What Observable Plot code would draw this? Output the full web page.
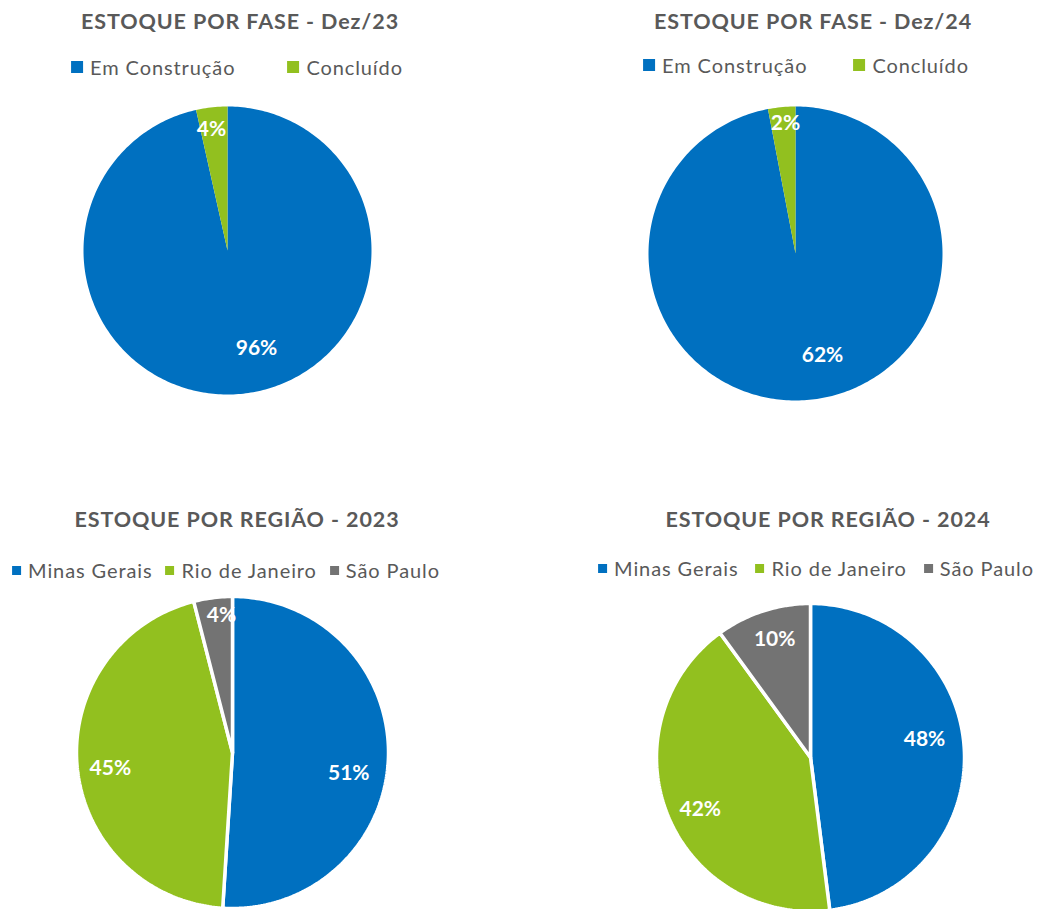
<!DOCTYPE html>
<html><head><meta charset="utf-8">
<script src="https://cdn.jsdelivr.net/npm/d3@7"></script>
<script src="https://cdn.jsdelivr.net/npm/@observablehq/plot@0.6"></script>
<style>
body{margin:0;width:1043px;height:909px;overflow:hidden;background:#fff;font-family:Lato,"Open Sans",sans-serif;position:relative}
.t{position:absolute;transform:translate(-50%,-50%);font-weight:700;color:#595959;font-size:21.5px;letter-spacing:0.9px;white-space:nowrap;line-height:1}
.lg{position:absolute;transform:translate(-50%,-50%);display:flex;align-items:center;color:#595959;font-size:20px;letter-spacing:0.9px;white-space:nowrap;line-height:1}
.item{display:flex;align-items:center}
.sw{display:inline-block;margin-right:7px}
.pie{position:absolute}
</style></head><body>
<script>
// ---- data ----
const phaseCategories = ["Em Construção", "Concluído"];
const phaseColors = ["#0070C0", "#92C01F"];
const phaseDez23 = [96.5, 3.5];
const phaseDez23Labels = ["96%", "4%"];
const phaseDez24 = [97, 3];
const phaseDez24Labels = ["62%", "2%"];

const regionCategories = ["Minas Gerais", "Rio de Janeiro", "São Paulo"];
const regionColors = ["#0070C0", "#92C01F", "#737373"];
const region2023 = [51, 45, 4];
const region2023Labels = ["51%", "45%", "4%"];
const region2024 = [48, 42, 10];
const region2024Labels = ["48%", "42%", "10%"];

const titles = ["ESTOQUE POR FASE - Dez/23", "ESTOQUE POR FASE - Dez/24", "ESTOQUE POR REGIÃO - 2023", "ESTOQUE POR REGIÃO - 2024"];

// ---- layout (positions / styling, not data) ----
const charts = [
  {title: titles[0], cats: phaseCategories, colors: phaseColors, values: phaseDez23, labels: phaseDez23Labels,
   cx: 227, cy: 250, r: 144, border: false, tx: 240, ty: 22, lx: 237, ly: 67, sw: 12, gap: 52,
   nudge: [-10.3, -1.2], rf: [0.706, 0.85]},
  {title: titles[1], cats: phaseCategories, colors: phaseColors, values: phaseDez24, labels: phaseDez24Labels,
   cx: 795, cy: 253, r: 147, border: false, tx: 813, ty: 22, lx: 806, ly: 65, sw: 12, gap: 46,
   nudge: [-9.5, 1], rf: [0.714, 0.89]},
  {title: titles[2], cats: regionCategories, colors: regionColors, values: region2023, labels: region2023Labels,
   cx: 232, cy: 752, r: 156, border: true, tx: 237, ty: 520, lx: 226, ly: 570, sw: 9, gap: 13,
   nudge: [8.3, -2.1, 2.6], rf: [0.757, 0.79, 0.88]},
  {title: titles[3], cats: regionCategories, colors: regionColors, values: region2024, labels: region2024Labels,
   cx: 810, cy: 757, r: 154, border: true, tx: 828, ty: 520, lx: 816, ly: 568, sw: 9, gap: 17,
   nudge: [-5.7, -3.4, 1.1], rf: [0.75, 0.79, 0.80]}
];

function slices(c) {
  const total = d3.sum(c.values);
  const pts = [], labs = [];
  let acc = 0;
  c.values.forEach((v, i) => {
    const a0 = acc / total * 2 * Math.PI;
    acc += v;
    const a1 = acc / total * 2 * Math.PI;
    const cat = c.cats[i];
    pts.push({cat, x: 0, y: 0});
    const n = Math.max(2, Math.ceil((a1 - a0) / (Math.PI / 180)));
    for (let k = 0; k <= n; k++) {
      const a = a0 + (a1 - a0) * k / n;
      pts.push({cat, x: c.r * Math.sin(a), y: c.r * Math.cos(a)});
    }
    pts.push({cat, x: 0, y: 0});
    const am = (a0 + a1) / 2 + c.nudge[i] * Math.PI / 180;
    const f = c.rf[i];
    labs.push({text: c.labels[i], x: f * c.r * Math.sin(am), y: f * c.r * Math.cos(am)});
  });
  return {pts, labs};
}

charts.forEach(c => {
  const t = document.createElement("div");
  t.className = "t"; t.textContent = c.title;
  t.style.left = c.tx + "px"; t.style.top = c.ty + "px";
  document.body.appendChild(t);

  const lg = document.createElement("div");
  lg.className = "lg"; lg.style.left = c.lx + "px"; lg.style.top = c.ly + "px";
  lg.style.gap = c.gap + "px";
  c.cats.forEach((cat, i) => {
    const it = document.createElement("span"); it.className = "item";
    const sw = document.createElement("span"); sw.className = "sw";
    sw.style.width = c.sw + "px"; sw.style.height = c.sw + "px"; sw.style.background = c.colors[i];
    const tx = document.createElement("span"); tx.textContent = cat;
    it.appendChild(sw); it.appendChild(tx); lg.appendChild(it);
  });
  document.body.appendChild(lg);

  const S = 2 * c.r + 12;
  const {pts, labs} = slices(c);
  const plot = Plot.plot({
    width: S, height: S, margin: 0,
    style: {background: "transparent", overflow: "visible"},
    x: {domain: [-S / 2, S / 2], axis: null},
    y: {domain: [-S / 2, S / 2], axis: null},
    color: {domain: c.cats, range: c.colors},
    marks: [
      Plot.line(pts, {x: "x", y: "y", z: "cat", fill: "cat", stroke: c.border ? "white" : "none",
        strokeWidth: 3.5, strokeLinejoin: "miter", curve: "linear"}),
      Plot.text(labs, {x: "x", y: "y", text: "text", fill: "white", fontWeight: "bold", fontSize: 21,
        fontFamily: "Lato, 'Open Sans', sans-serif"})
    ]
  });
  const d = document.createElement("div");
  d.className = "pie";
  d.style.left = (c.cx - S / 2) + "px"; d.style.top = (c.cy - S / 2) + "px";
  d.appendChild(plot);
  document.body.appendChild(d);
});
</script>
</body></html>
